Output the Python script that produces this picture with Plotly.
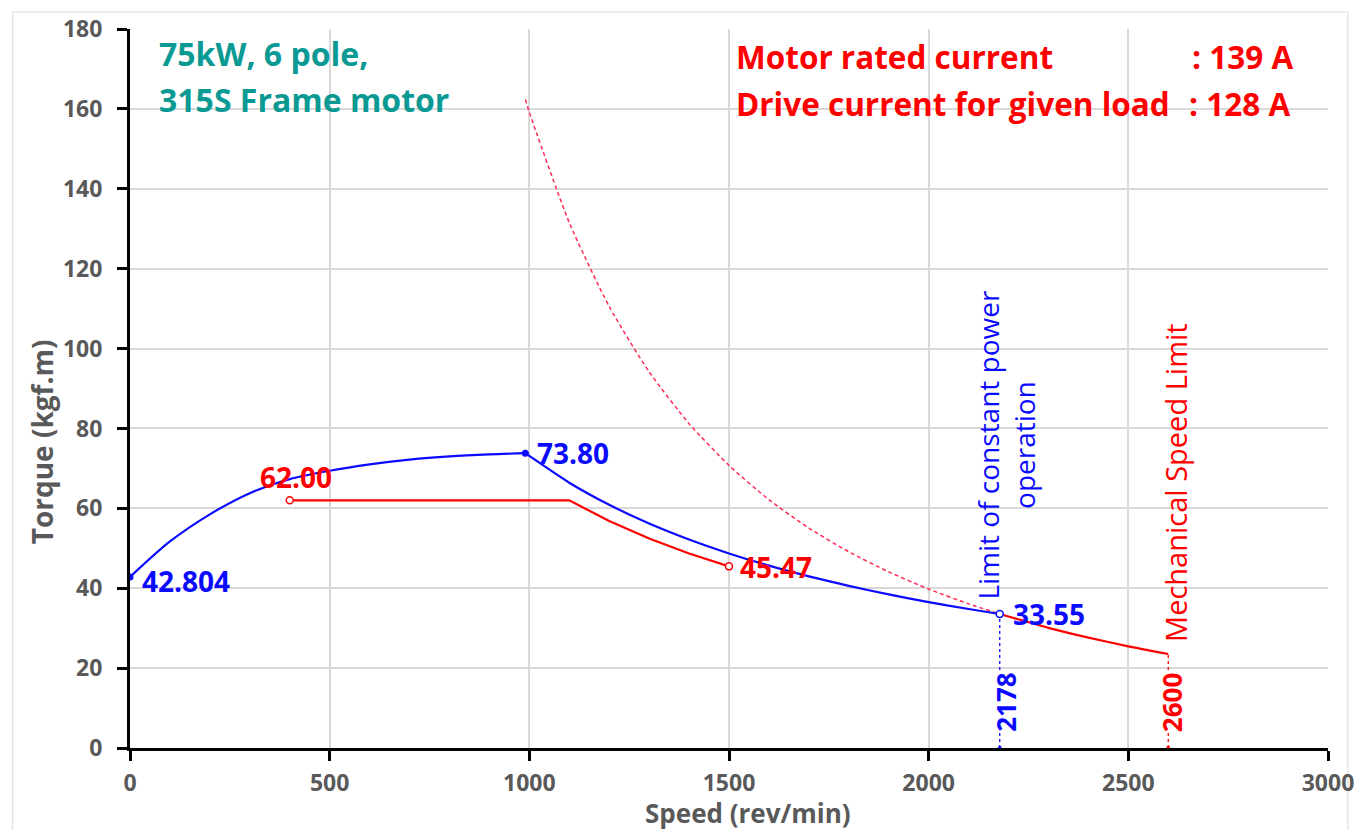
import plotly.graph_objects as go

# Motor torque capability (kgf.m) vs speed (rev/min), constant torque region
motor_speed = [0, 100, 200, 300, 400, 500, 600, 700, 800, 900, 990]
motor_torque = [42.804, 51.7, 58.5, 63.8, 67.3, 69.4, 71.0, 72.2, 73.0, 73.5, 73.80]

# Motor constant power region
cp_speed = [990, 1100, 1200, 1300, 1400, 1500, 1600, 1700, 1800, 1900, 2000, 2100, 2178]
cp_torque = [73.80, 66.42, 60.89, 56.20, 52.19, 48.71, 45.66, 42.98, 40.59, 38.45, 36.53, 34.79, 33.55]

# Load torque requirement
load_speed = [400, 1100, 1200, 1300, 1400, 1500]
load_torque = [62.00, 62.00, 56.83, 52.46, 48.71, 45.47]

# Breakdown-limited torque in field weakening
bd_speed = [990, 1000, 1100, 1200, 1300, 1400, 1500, 1600, 1700, 1800, 1900, 2000, 2100, 2178]
bd_torque = [162.38, 159.15, 131.53, 110.52, 94.17, 81.20, 70.73, 62.17, 55.07, 49.12, 44.09, 39.79, 36.09, 33.55]

# From the constant power limit up to the mechanical speed limit
hs_speed = [2178, 2300, 2400, 2500, 2600]
hs_torque = [33.55, 30.08, 27.63, 25.46, 23.54]

cp_limit_speed = 2178
mech_limit_speed = 2600

x_ticks = [0, 500, 1000, 1500, 2000, 2500, 3000]
y_ticks = [0, 20, 40, 60, 80, 100, 120, 140, 160, 180]

BLUE = "#0a0aff"
RED = "#ff0000"
DASH_RED = "#ff2a55"
TEAL = "#0b9a93"
GREY = "#595959"
FONT = "Open Sans"

fig = go.Figure()

# dashed breakdown limit
fig.add_trace(go.Scatter(x=bd_speed, y=bd_torque, mode="lines",
                         line=dict(color=DASH_RED, width=1.5, dash="4px,3px", shape="spline", smoothing=0.6),
                         hoverinfo="skip"))

# vertical guide lines at the speed limits
fig.add_trace(go.Scatter(x=[cp_limit_speed, cp_limit_speed], y=[0, cp_torque[-1]], mode="lines",
                         line=dict(color=BLUE, width=1.3, dash="3px,3px")))
fig.add_trace(go.Scatter(x=[mech_limit_speed, mech_limit_speed], y=[0, hs_torque[-1]], mode="lines",
                         line=dict(color=RED, width=1.3, dash="3px,3px")))

# load curve
fig.add_trace(go.Scatter(x=load_speed, y=load_torque, mode="lines",
                         line=dict(color=RED, width=2.2)))
# high-speed part of the available torque
fig.add_trace(go.Scatter(x=hs_speed, y=hs_torque, mode="lines",
                         line=dict(color=RED, width=2.2, shape="spline", smoothing=0.6)))
# motor curves
fig.add_trace(go.Scatter(x=motor_speed, y=motor_torque, mode="lines",
                         line=dict(color=BLUE, width=2.2, shape="spline", smoothing=0.8)))
fig.add_trace(go.Scatter(x=cp_speed, y=cp_torque, mode="lines",
                         line=dict(color=BLUE, width=2.2, shape="spline", smoothing=0.6)))

# point markers
fig.add_trace(go.Scatter(x=[motor_speed[0], cp_speed[0]], y=[motor_torque[0], cp_torque[0]], mode="markers",
                         marker=dict(color=BLUE, size=7)))
fig.add_trace(go.Scatter(x=[load_speed[0], load_speed[-1]], y=[load_torque[0], load_torque[-1]], mode="markers",
                         marker=dict(color="white", size=7, line=dict(color=RED, width=1.5))))
fig.add_trace(go.Scatter(x=[cp_speed[-1]], y=[cp_torque[-1]], mode="markers",
                         marker=dict(color="white", size=7, line=dict(color=BLUE, width=1.5))))
fig.add_trace(go.Scatter(x=[cp_limit_speed], y=[0], mode="markers", marker=dict(color=BLUE, size=4)))
fig.add_trace(go.Scatter(x=[mech_limit_speed], y=[0], mode="markers", marker=dict(color=RED, size=4)))

label_font = dict(family=FONT, size=28, weight="bold")
teal_font = dict(family=FONT, size=32, weight="bold", color=TEAL)
note_font = dict(family=FONT, size=31.5, weight="bold", color=RED)
annotations = [
    dict(x=motor_speed[0], y=motor_torque[0], text=f"{motor_torque[0]:.3f}", xanchor="left",
         xshift=11, yshift=-4, font=dict(label_font, color=BLUE)),
    dict(x=cp_speed[0], y=cp_torque[0], text=f"{cp_torque[0]:.2f}", xanchor="left",
         xshift=11, yshift=0, font=dict(label_font, color=BLUE)),
    dict(x=load_speed[0], y=load_torque[0], text=f"{load_torque[0]:.2f}", xanchor="center",
         xshift=6, yshift=23, font=dict(label_font, color=RED)),
    dict(x=load_speed[-1], y=load_torque[-1], text=f"{load_torque[-1]:.2f}", xanchor="left",
         xshift=10, yshift=-1, font=dict(label_font, color=RED)),
    dict(x=cp_speed[-1], y=cp_torque[-1], text=f"{cp_torque[-1]:.2f}", xanchor="left",
         xshift=12, yshift=0, font=dict(label_font, color=BLUE)),
    # speed limit values, rotated
    dict(x=cp_limit_speed, y=11.5, text=str(cp_limit_speed), textangle=-90, bgcolor="white",
         xshift=6, font=dict(family=FONT, size=26, weight="bold", color=BLUE)),
    dict(x=mech_limit_speed, y=11.3, text=str(mech_limit_speed), textangle=-90, bgcolor="white",
         xshift=4, font=dict(family=FONT, size=26, weight="bold", color=RED)),
    # rotated notes
    dict(xref="paper", yref="paper", x=0.731, y=0.4216, text="Limit of constant power<br>operation",
         textangle=-90, font=dict(family=FONT, size=28, color=BLUE)),
    dict(xref="paper", yref="paper", x=0.8725, y=0.369, text="Mechanical Speed Limit",
         textangle=-90, font=dict(family=FONT, size=29, color=RED)),
    # headings
    dict(xref="paper", yref="paper", x=0.0232, y=0.9653, xanchor="left", text="75kW, 6 pole,",
         font=teal_font),
    dict(xref="paper", yref="paper", x=0.0232, y=0.9015, xanchor="left", text="315S Frame motor",
         font=teal_font),
    dict(xref="paper", yref="paper", x=0.5046, y=0.9612, xanchor="left", text="Motor rated current",
         font=note_font),
    dict(xref="paper", yref="paper", x=0.8855, y=0.9612, xanchor="left", text=": 139 A",
         font=note_font),
    dict(xref="paper", yref="paper", x=0.5046, y=0.896, xanchor="left", text="Drive current for given load",
         font=note_font),
    dict(xref="paper", yref="paper", x=0.8835, y=0.896, xanchor="left", text=": 128 A",
         font=note_font),
    # axis titles
    dict(xref="paper", yref="paper", x=0.516, y=-0.0638, yanchor="top", text="Speed (rev/min)",
         font=dict(family=FONT, size=26, weight="bold", color=GREY)),
    dict(xref="paper", yref="paper", x=-0.0738, y=0.426, text="Torque (kgf.m)", textangle=-90,
         font=dict(family=FONT, size=28, weight="bold", color=GREY)),
]
for a in annotations:
    a.setdefault("showarrow", False)
    a.setdefault("xref", "x")
    a.setdefault("yref", "y")
    a.setdefault("xanchor", "center")
    a.setdefault("yanchor", "middle")
    a.setdefault("borderpad", 0)

axis_common = dict(
    showline=True, linecolor="black", linewidth=3,
    ticks="outside", ticklen=10, tickwidth=3, tickcolor="black",
    showgrid=True, gridcolor="#d9d9d9", gridwidth=1.5,
    zeroline=False,
    tickfont=dict(family=FONT, size=23, color=GREY, weight="bold"),
)

fig.update_layout(
    width=1366, height=830,
    margin=dict(l=130, r=31, t=27, b=82),
    paper_bgcolor="white", plot_bgcolor="white",
    showlegend=False,
    xaxis=dict(axis_common, range=[0, 3000], tickvals=x_ticks, ticklabelstandoff=2),
    yaxis=dict(axis_common, range=[0, 180], tickvals=y_ticks, ticklabelstandoff=10),
    annotations=annotations,
    shapes=[dict(type="rect", xref="paper", yref="paper", x0=-0.098, x1=1.0165, y0=-0.2, y1=1.0236,
                 line=dict(color="#e6e6e6", width=1.5), layer="below")],
)

fig.write_html("out.html")
